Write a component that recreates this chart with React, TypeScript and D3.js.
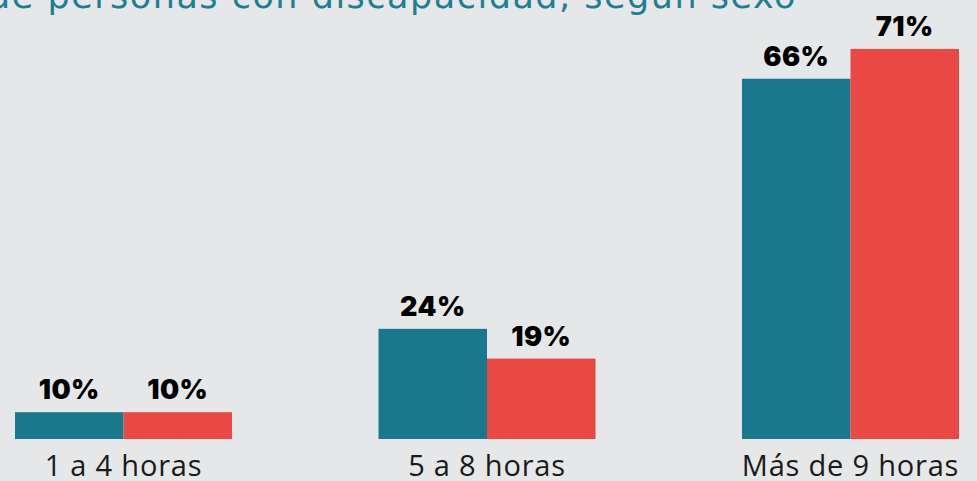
import React from "react";
import * as d3 from "d3";

const categories = ["1 a 4 horas", "5 a 8 horas", "Más de 9 horas"];
const seriesNames = ["Hombres", "Mujeres"];
const hombres = [10, 24, 66];
const mujeres = [10, 19, 71];
const valueLabels = [
  ["10%", "24%", "66%"],
  ["10%", "19%", "71%"],
];
const titleText = "de personas con discapacidad, según sexo";

const W = 977;
const H = 481;
const colors = ["#19788b", "#e94843"];

export default function App() {
  const x = d3.scaleBand<string>().domain(categories).range([15, 959]).paddingInner(0.403).paddingOuter(0);
  const xs = d3.scaleBand<string>().domain(seriesNames).range([0, x.bandwidth()]).padding(0);
  const y = d3.scaleLinear().domain([5.5, 72]).range([439, 43]);
  const series = [hombres, mujeres];

  return (
    <svg width={W} height={H} style={{ position: "fixed", top: 0, left: 0 }}>
      <rect x={0} y={0} width={W} height={H} fill="#e6e7e9" />
      <text
        x={797}
        y={8}
        textAnchor="end"
        fill="#1d7f90"
        fontFamily="'DejaVu Sans', sans-serif"
        fontSize={35}
        letterSpacing={1.5}
      >
        {titleText}
      </text>
      {categories.map((c, ci) => (
        <g key={c} transform={`translate(${x(c)},0)`}>
          {seriesNames.map((s, si) => {
            const v = series[si][ci];
            const bx = xs(s)!;
            const top = y(v);
            return (
              <g key={s}>
                <rect x={bx} y={top} width={xs.bandwidth()} height={y(5.5) - top} fill={colors[si]} />
                <text
                  x={bx + xs.bandwidth() / 2}
                  y={top - 13}
                  textAnchor="middle"
                  fontFamily="Inter, Roboto, sans-serif"
                  fontWeight={900}
                  fontSize={27}
                  letterSpacing={0.5}
                  fill="#000"
                >
                  {valueLabels[si][ci]}
                </text>
              </g>
            );
          })}
          <text
            x={x.bandwidth() / 2}
            y={476}
            textAnchor="middle"
            fontFamily="'Open Sans', sans-serif"
            fontSize={29}
            letterSpacing={0.8}
            fill="#1a1a1a"
          >
            {c}
          </text>
        </g>
      ))}
    </svg>
  );
}
